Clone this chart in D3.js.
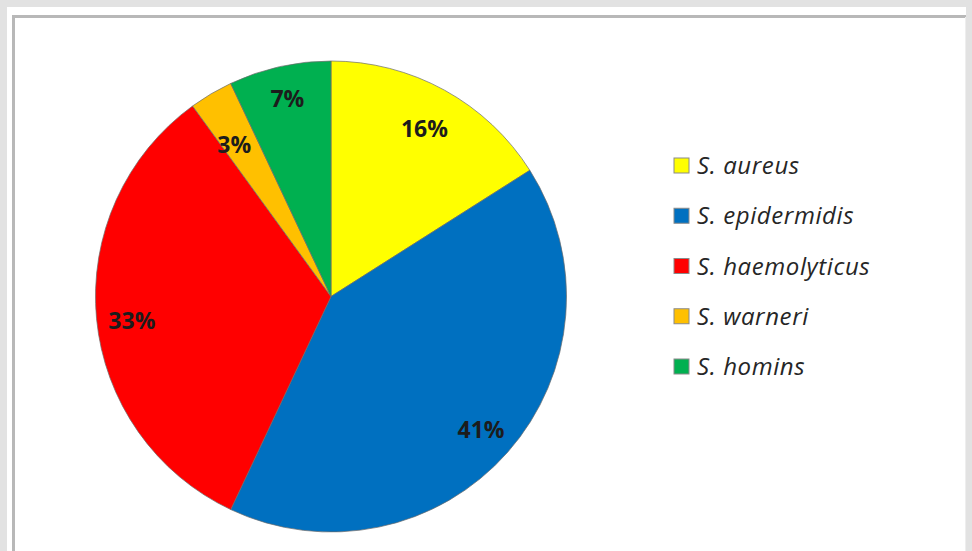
<!DOCTYPE html>
<html>
<head>
<meta charset="utf-8">
<script src="https://cdn.jsdelivr.net/npm/d3@7"></script>
<style>
  html, body { margin: 0; padding: 0; background: #e2e2e2; }
  svg { display: block; }
</style>
</head>
<body>
<script>
const categories = ["S. aureus", "S. epidermidis", "S. haemolyticus", "S. warneri", "S. homins"];
const values = [16, 41, 33, 3, 7];
const labels = ["16%", "41%", "33%", "3%", "7%"];
const colors = ["#ffff00", "#0070c0", "#ff0000", "#ffc000", "#00b050"];

const W = 972, H = 551;
const svg = d3.select("body").append("svg").attr("width", W).attr("height", H);

// frame
svg.append("rect").attr("x", 0).attr("y", 0).attr("width", W).attr("height", H).attr("fill", "#e2e2e2");
svg.append("rect").attr("x", 7).attr("y", 7).attr("width", 959).attr("height", H).attr("fill", "#ffffff");
svg.append("path").attr("d", "M13.5," + H + " V16.5 H966")
  .attr("fill", "none").attr("stroke", "#b8b8b8").attr("stroke-width", 3);
svg.append("line").attr("x1", 965.5).attr("x2", 965.5).attr("y1", 17).attr("y2", H)
  .attr("stroke", "#eeeeee").attr("stroke-width", 1);

const cx = 331, cy = 296.5, R = 235.5;
const data = categories.map((c, i) => ({ name: c, value: values[i], label: labels[i], color: colors[i] }));

const pie = d3.pie().value(d => d.value).sort(null);
const arc = d3.arc().innerRadius(0).outerRadius(R);
// label placement (Excel best-fit style): radius and small vertical nudge per slice
const labelRadius = [194, 200, 200, 190, 200];
const labelNudge = [2, 1, 5, 12, -3];

const g = svg.append("g").attr("transform", `translate(${cx},${cy})`);
const arcs = pie(data);

g.selectAll("path.slice").data(arcs).enter().append("path")
  .attr("class", "slice")
  .attr("d", arc)
  .attr("fill", d => d.data.color)
  .attr("stroke", "#6b6b6b")
  .attr("stroke-opacity", 0.7)
  .attr("stroke-width", 1);

g.selectAll("text.lbl").data(arcs).enter().append("text")
  .attr("class", "lbl")
  .attr("transform", (d, i) => {
    const la = d3.arc().innerRadius(labelRadius[i]).outerRadius(labelRadius[i]);
    const [x, y] = la.centroid(d);
    return `translate(${x},${y + labelNudge[i]})`;
  })
  .attr("text-anchor", "middle")
  .attr("dy", "0.36em")
  .attr("font-family", "'Open Sans', sans-serif")
  .attr("font-weight", "bold")
  .attr("font-size", 23)
  .attr("fill", "#1c1c1c")
  .text(d => d.data.label);

// legend
const legend = svg.append("g");
const ly = d3.scalePoint().domain(categories).range([165.5, 366.5]);
const items = legend.selectAll("g").data(data).enter().append("g")
  .attr("transform", d => `translate(0,${ly(d.name)})`);
items.append("rect")
  .attr("x", 674).attr("y", -7.5).attr("width", 15).attr("height", 15)
  .attr("fill", d => d.color)
  .attr("stroke", "#8a8a8a").attr("stroke-width", 1);
items.append("text")
  .attr("x", 697).attr("y", 8.5)
  .attr("font-family", "'Open Sans', sans-serif")
  .attr("font-style", "italic")
  .attr("font-size", 24)
  .attr("letter-spacing", 0.6)
  .attr("fill", "#262626")
  .text(d => d.name);
</script>
</body>
</html>
